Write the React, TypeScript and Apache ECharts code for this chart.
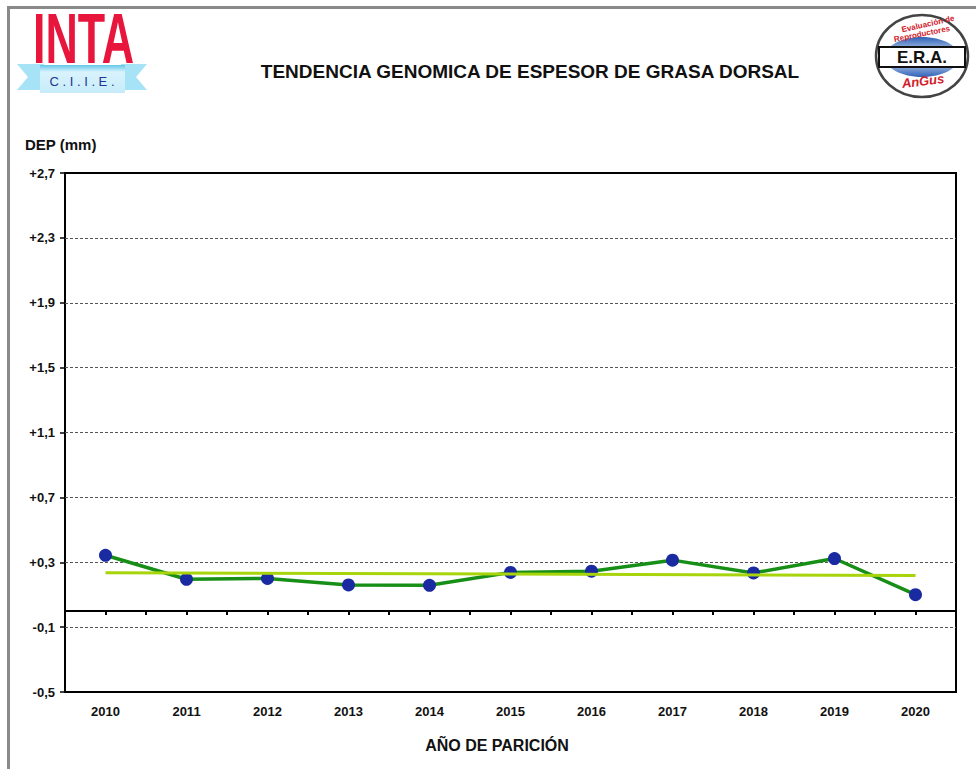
import React, { useEffect, useRef } from "react";
import * as echarts from "echarts";

// ---- data ----
const years = [2010, 2011, 2012, 2013, 2014, 2015, 2016, 2017, 2018, 2019, 2020];
const depValues = [0.343, 0.195, 0.2, 0.16, 0.158, 0.237, 0.245, 0.313, 0.234, 0.323, 0.1];
// trend line (read at its two ends)
const trendValues: (number | null)[] = [0.236, null, null, null, null, null, null, null, null, null, 0.218];
const yMin = -0.5;
const yMax = 2.7;
const yStep = 0.4;
const chartTitle = "TENDENCIA GENOMICA DE ESPESOR DE GRASA DORSAL";
const yAxisTitle = "DEP (mm)";
const xAxisTitle = "AÑO DE PARICIÓN";
const intaText = "INTA";
const ciieText = "C . I . I . E .";
const eraText = "E.R.A.";
const eraTop1 = "Evaluación de";
const eraTop2 = "Reproductores";
const eraBottom = "AnGus";

const FONT = '"Liberation Sans", Arial, Helvetica, sans-serif';

function fmtY(v: number): string {
  const r = Math.round(v * 10) / 10;
  const sign = r > 0 ? "+" : r < 0 ? "-" : "";
  return sign + Math.abs(r).toFixed(1).replace(".", ",");
}

export default function App() {
  const ref = useRef<HTMLDivElement>(null);
  useEffect(() => {
    if (!ref.current) return;
    const chart = echarts.init(ref.current, undefined, { renderer: "svg" });
    const xMin = years[0] - 0.5;
    const xMax = years[years.length - 1] + 0.5;
    const option: any = {
      animation: false,
      backgroundColor: "#ffffff",
      title: {
        text: chartTitle,
        left: 525,
        top: 57,
        textAlign: "center",
        textStyle: { fontFamily: FONT, fontWeight: "bold", fontSize: 19, color: "#111" },
      },
      grid: {
        left: 65,
        top: 173,
        width: 891,
        height: 519,
        show: true,
        borderColor: "#000",
        borderWidth: 2,
        backgroundColor: "transparent",
      },
      xAxis: [
        {
          type: "value",
          position: "bottom",
          min: xMin,
          max: xMax,
          interval: 0.5,
          axisLine: { show: false, onZero: false },
          axisTick: { show: false },
          splitLine: { show: false },
          axisLabel: {
            margin: 13,
            fontFamily: FONT,
            fontWeight: "bold",
            fontSize: 13,
            color: "#111",
            formatter: (v: number) => (Math.abs(v - Math.round(v)) < 1e-6 ? String(Math.round(v)) : ""),
          },
        },
        {
          type: "value",
          position: "top",
          min: xMin,
          max: xMax,
          interval: 0.5,
          axisLine: { show: true, onZero: true, onZeroAxisIndex: 0, lineStyle: { color: "#000", width: 2 } },
          axisTick: { show: true, inside: true, length: 4, lineStyle: { color: "#000", width: 2 } },
          axisLabel: { show: false },
          splitLine: { show: false },
        },
      ],
      yAxis: {
        type: "value",
        min: yMin,
        max: yMax,
        interval: yStep,
        axisLine: { show: false, onZero: false },
        axisTick: { show: true, length: 5, lineStyle: { color: "#000", width: 1.5 } },
        splitLine: {
          show: true,
          showMinLine: false,
          showMaxLine: false,
          lineStyle: { color: "#555", width: 1.2, type: [3, 2] },
        },
        axisLabel: {
          margin: 10,
          fontFamily: FONT,
          fontWeight: "bold",
          fontSize: 13,
          color: "#111",
          formatter: (v: number) => fmtY(v),
        },
      },
      series: [
        {
          type: "line",
          xAxisIndex: 0,
          data: years.map((y, i) => [y, depValues[i]]),
          symbol: "circle",
          symbolSize: 13,
          lineStyle: { color: "#178f17", width: 3.5 },
          itemStyle: { color: "#1a2aa0" },
          z: 3,
        },
        {
          type: "line",
          xAxisIndex: 0,
          data: years.map((y, i) => [y, trendValues[i]]),
          connectNulls: true,
          symbol: "none",
          lineStyle: { color: "#a8d40c", width: 3 },
          z: 4,
        },
      ],
      graphic: [
        // page frame
        { type: "line", shape: { x1: 8.5, y1: 7, x2: 8.5, y2: 769 }, style: { stroke: "#8a8a8a", lineWidth: 3 } },
        { type: "line", shape: { x1: 7, y1: 7.5, x2: 976, y2: 7.5 }, style: { stroke: "#8a8a8a", lineWidth: 3 } },
        // y axis title
        {
          type: "text",
          x: 25,
          y: 144,
          style: { text: yAxisTitle, font: `bold 15px ${FONT}`, fill: "#111", verticalAlign: "middle" },
        },
        // x axis title
        {
          type: "text",
          x: 497,
          y: 745,
          style: { text: xAxisTitle, font: `bold 16px ${FONT}`, fill: "#111", align: "center", verticalAlign: "middle" },
        },
        // INTA logo
        {
          type: "text",
          x: 33,
          y: 4,
          scaleX: 0.64,
          style: {
            text: intaText,
            font: `bold 70px ${FONT}`,
            fill: "#e8163c",
            verticalAlign: "top",
          },
        },
        {
          type: "polygon",
          shape: { points: [[17, 64], [44, 64], [44, 90], [17, 90], [28, 77]] },
          style: { fill: "#a6e3f7" },
        },
        {
          type: "polygon",
          shape: { points: [[121, 64], [147, 64], [136, 77], [147, 90], [121, 90]] },
          style: { fill: "#a6e3f7" },
        },
        {
          type: "rect",
          shape: { x: 40, y: 65, width: 85, height: 28 },
          style: {
            fill: new echarts.graphic.LinearGradient(0, 0, 0, 1, [
              { offset: 0, color: "#62c8ea" },
              { offset: 0.25, color: "#d9f3fc" },
              { offset: 1, color: "#c6ecfa" },
            ]),
          },
        },
        {
          type: "text",
          x: 82,
          y: 81,
          style: { text: ciieText, font: `13px ${FONT}`, fill: "#23358f", align: "center", verticalAlign: "middle" },
        },
        // ERA logo
        {
          type: "ellipse",
          shape: { cx: 922, cy: 56, rx: 46, ry: 41 },
          style: { fill: "#fff", stroke: "#444", lineWidth: 2.5 },
        },
        {
          type: "ellipse",
          shape: { cx: 922, cy: 57, rx: 37, ry: 20 },
          style: {
            fill: new echarts.graphic.LinearGradient(0, 0, 0, 1, [
              { offset: 0, color: "#2f63b8" },
              { offset: 0.5, color: "#e8f0fa" },
              { offset: 1, color: "#2f63b8" },
            ]),
          },
        },
        {
          type: "text",
          x: 928,
          y: 24,
          rotation: 0.22,
          style: { text: eraTop1, font: `bold 8px ${FONT}`, fill: "#d0202a", align: "center", verticalAlign: "middle" },
        },
        {
          type: "text",
          x: 922,
          y: 34,
          rotation: 0.2,
          style: { text: eraTop2, font: `bold 8px ${FONT}`, fill: "#d0202a", align: "center", verticalAlign: "middle" },
        },
        {
          type: "rect",
          shape: { x: 879, y: 47, width: 86, height: 20 },
          style: { fill: "#fff", stroke: "#111", lineWidth: 2 },
        },
        {
          type: "text",
          x: 922,
          y: 57.5,
          style: { text: eraText, font: `bold 17px ${FONT}`, fill: "#111", align: "center", verticalAlign: "middle" },
        },
        {
          type: "text",
          x: 923,
          y: 81,
          rotation: 0.12,
          style: { text: eraBottom, font: `italic bold 13px ${FONT}`, fill: "#d0202a", align: "center", verticalAlign: "middle" },
        },
      ],
    };
    chart.setOption(option);
    return () => chart.dispose();
  }, []);
  return (
    <div
      ref={ref}
      style={{ position: "fixed", left: 0, top: 0, width: 976, height: 769, background: "#fff" }}
    />
  );
}
